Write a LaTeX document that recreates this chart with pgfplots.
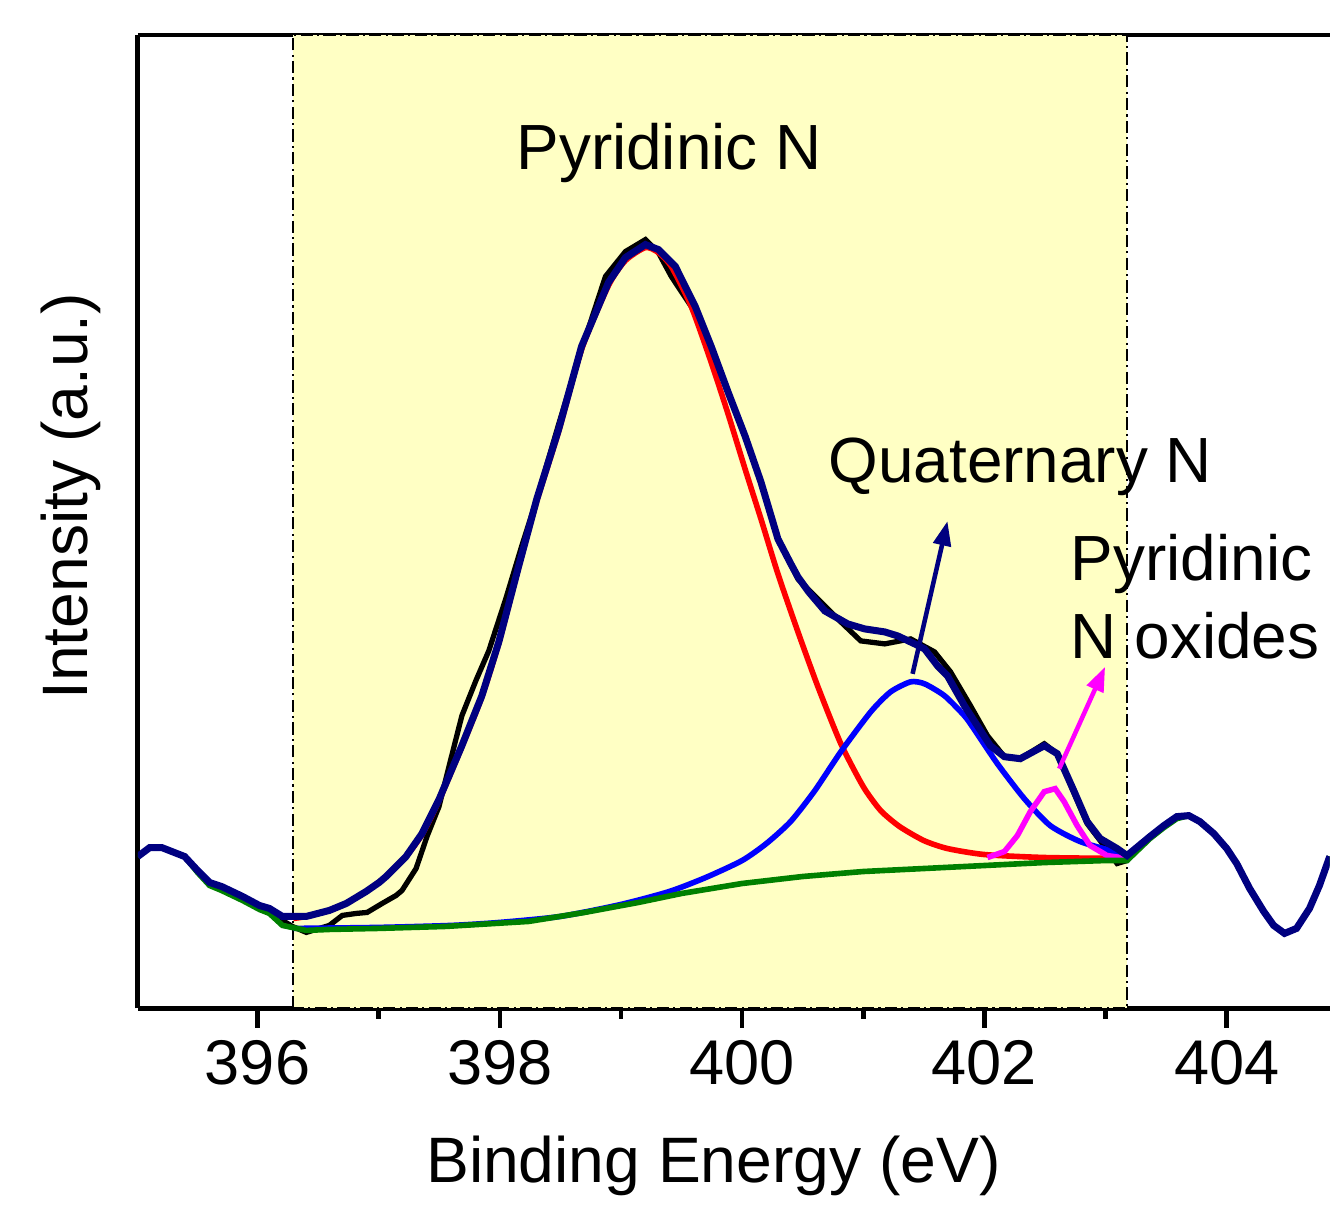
\documentclass[border=0pt]{standalone}
\usepackage{pgfplots}
\pgfplotsset{compat=1.18}
\usepackage{fontspec}
\setmainfont{Liberation Sans}
\usetikzlibrary{arrows.meta}
\definecolor{navyc}{RGB}{0,0,128}
\definecolor{bluec}{RGB}{0,0,255}
\definecolor{redc}{RGB}{255,0,0}
\definecolor{magc}{RGB}{255,0,255}
\definecolor{greenc}{RGB}{0,128,0}
\definecolor{regionc}{RGB}{255,255,196}

\begin{document}
\begin{tikzpicture}
\begin{axis}[
    scale only axis,
    width=11.94cm, height=9.75cm,
    xmin=395.012, xmax=404.85,
    ymin=0, ymax=975,
    axis x line*=box, axis y line*=left,
    axis line style={line width=1.3pt},
    xtick={396,398,400,402,404},
    minor x tick num=1,
    xtick pos=bottom,
    ytick=\empty,
    tick align=outside,
    major tick length=5.5pt, minor tick length=3pt,
    every tick/.style={line width=1.3pt, black},
    tick label style={font=\fontsize{18}{21}\selectfont},
    /pgf/number format/assume math mode=true,
    /pgf/number format/1000 sep={},
    xlabel={Binding Energy (eV)},
    ylabel={Intensity (a.u.)},
    label style={font=\fontsize{18.3}{22}\selectfont},
    xlabel style={at={(axis description cs:0.483,0)}, anchor=base, yshift=-1.75cm},
    ylabel style={at={(axis description cs:-0.021,0.526)}, anchor=south},
    clip=true,
]
% shaded fitting window
\draw[fill=regionc, line width=0.6pt, dash pattern=on 3.5pt off 1.2pt on 0.6pt off 1.2pt]
    (axis cs:396.296,0) rectangle (axis cs:403.177,975);

% raw data
\addplot[black, line width=1.5pt] coordinates {
(395.012,152) (395.111,161) (395.210,161) (395.399,152) (395.506,138) (395.605,126)
(395.704,122) (395.877,112) (396.016,103) (396.099,98) (396.206,88) (396.288,82)
(396.403,76) (396.593,83) (396.700,93) (396.815,95) (396.905,96) (397.029,105)
(397.144,113) (397.193,118) (397.309,140) (397.399,172) (397.498,202) (397.597,250)
(397.687,293) (397.802,328) (397.909,358) (398.049,410) (398.181,463) (398.305,510)
(398.486,585) (398.675,660) (398.872,733) (399.037,758) (399.202,770) (399.309,757)
(399.416,733) (399.580,703) (399.745,663) (399.885,617) (400.025,573) (400.156,527)
(400.296,470) (400.461,430) (400.683,403) (400.815,387) (400.979,368) (401.177,365)
(401.391,370) (401.588,357) (401.720,337) (401.885,303) (402.025,273) (402.165,252)
(402.296,250) (402.494,265) (402.601,255) (402.741,215) (402.848,185) (402.955,168)
(403.095,145) (403.177,148) (403.366,172) (403.481,183) (403.588,192) (403.687,193)
(403.778,187) (403.893,175) (404.000,160) (404.082,145) (404.189,120) (404.305,97)
(404.387,83) (404.477,75) (404.576,80) (404.683,100) (404.765,123) (404.850,152)
};

% Pyridinic N
\addplot[redc, line width=1.6pt, smooth, tension=0.4] coordinates {
(396.296,90) (396.403,92) (396.593,98) (396.733,105) (396.897,117) (397.062,132)
(397.226,152) (397.358,174) (397.498,208) (397.687,262) (397.852,312) (397.992,366)
(398.156,442) (398.305,508) (398.486,578) (398.675,660) (398.897,724) (399.037,749)
(399.202,762) (399.309,757) (399.416,743) (399.580,703) (399.745,647) (399.885,595)
(400.025,540) (400.156,490) (400.296,435) (400.461,377) (400.626,322) (400.815,265)
(401.000,222) (401.144,198) (401.300,182) (401.500,168) (401.695,160) (402.000,154)
(402.500,151) (403.177,150)
};

% Quaternary N
\addplot[bluec, line width=1.6pt, smooth, tension=0.4] coordinates {
(396.296,80) (397.0,81) (397.6,83) (398.0,86) (398.5,92) (399.0,104) (399.4,117)
(399.7,131) (400.0,148) (400.2,165) (400.4,187) (400.6,218) (400.815,257)
(401.062,297) (401.226,317) (401.391,327) (401.506,325) (401.671,313)
(401.835,293) (401.918,279) (402.107,245) (402.329,210) (402.543,183) (402.790,167)
(403.070,157) (403.177,152)
};

% Pyridinic N oxides
\addplot[magc, line width=1.6pt] coordinates {
(402.025,151) (402.165,157) (402.272,173) (402.379,197) (402.494,217)
(402.584,220) (402.658,207) (402.765,183) (402.872,163) (403.012,153) (403.177,150)
};

% background
\addplot[greenc, line width=1.6pt] coordinates {
(395.012,152) (395.111,161) (395.210,161) (395.399,152) (395.506,136) (395.605,123)
(395.704,118) (395.877,108) (396.016,99) (396.099,95) (396.206,83) (396.403,78)
(396.6,79) (397.0,80) (397.556,82) (398.239,87) (398.7,96) (399.144,106) (399.5,115)
(400.0,125) (400.5,132) (401.0,137) (401.5,140) (402.0,143) (402.5,146) (403.0,148)
(403.177,148) (403.366,170) (403.481,181) (403.588,190) (403.687,193)
(403.778,187) (403.893,175) (404.000,160) (404.082,145) (404.189,120) (404.305,97)
(404.387,83) (404.477,75) (404.576,80) (404.683,100) (404.765,123) (404.850,152)
};

% envelope
\addplot[navyc, line width=2pt] coordinates {
(395.012,152) (395.111,161) (395.210,161) (395.399,152) (395.506,138) (395.605,126)
(395.704,122) (395.877,112) (396.016,103) (396.099,100) (396.206,92) (396.403,92)
(396.593,98) (396.733,105) (396.897,117) (397.004,126) (397.062,132) (397.226,152)
(397.358,175) (397.498,209) (397.687,263) (397.852,313) (397.992,367) (398.156,443)
(398.305,510) (398.486,580) (398.675,663) (398.897,727) (399.037,752) (399.202,765)
(399.309,760) (399.449,743) (399.613,703) (399.745,663) (399.885,617) (400.025,573)
(400.156,527) (400.296,470) (400.403,445) (400.461,432) (400.55,417) (400.683,398)
(400.872,385) (401.012,380) (401.177,377) (401.284,373) (401.424,365) (401.506,360)
(401.613,343) (401.695,333) (401.835,303) (402.049,263) (402.165,252) (402.296,250)
(402.494,263) (402.601,255) (402.741,217) (402.848,187) (402.955,170) (403.095,160)
(403.177,153) (403.366,172) (403.481,183) (403.588,192) (403.687,193) (403.778,187)
(403.893,175) (404.000,160) (404.082,145) (404.189,120) (404.305,97) (404.387,83)
(404.477,75) (404.576,80) (404.683,100) (404.765,123) (404.850,152)
};

% annotations
\draw[navyc, line width=1.3pt, -{Triangle[length=7pt, width=5pt]}]
    (axis cs:401.407,335) -- (axis cs:401.695,488);
\draw[magc, line width=1.3pt, -{Triangle[length=7pt, width=5pt]}]
    (axis cs:402.617,240) -- (axis cs:402.996,342);
\node[anchor=base west, inner sep=0pt, font=\fontsize{18.2}{22}\selectfont]
    at (axis cs:398.132,840) {Pyridinic N};
\node[anchor=base west, inner sep=0pt, font=\fontsize{18.2}{22}\selectfont]
    at (axis cs:400.708,527) {Quaternary N};
\node[anchor=base west, inner sep=0pt, font=\fontsize{18.2}{22}\selectfont]
    at (axis cs:402.708,428) {Pyridinic};
\node[anchor=base west, inner sep=0pt, font=\fontsize{18.2}{22}\selectfont]
    at (axis cs:402.708,350) {N oxides};

\coordinate (bl) at (rel axis cs:0,0);
\coordinate (tr) at (rel axis cs:1,1);
\end{axis}
\path ([xshift=-1.38cm,yshift=-1.88cm]bl) rectangle ([yshift=0.35cm]tr);
\end{tikzpicture}
\end{document}
